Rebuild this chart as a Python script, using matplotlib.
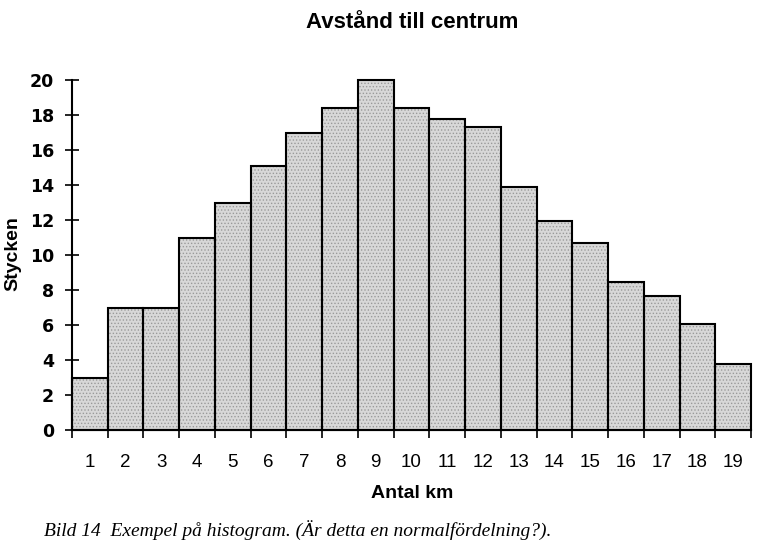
import matplotlib
matplotlib.use("Agg")
import matplotlib.pyplot as plt
import numpy as np

title = "Avstånd till centrum"
xlabel = "Antal km"
ylabel = "Stycken"
caption = "Bild 14  Exempel på histogram. (Är detta en normalfördelning?)."
km = [1, 2, 3, 4, 5, 6, 7, 8, 9, 10, 11, 12, 13, 14, 15, 16, 17, 18, 19]
counts = [3, 7, 7, 11, 13, 15.1, 16.95, 18.4, 20, 18.4, 17.8, 17.3, 13.9,
          11.95, 10.7, 8.45, 7.65, 6.05, 3.8]
yticks = [0, 2, 4, 6, 8, 10, 12, 14, 16, 18, 20]

plt.rcParams['hatch.linewidth'] = 0.6
fig = plt.figure(figsize=(7.64, 5.53), dpi=100)
ax = fig.add_axes([72/764, 1-430/553, (751-72)/764, (430-80)/553])

x = np.array(km)
# stippled fill
ax.bar(x, counts, width=1.0, color='#d8d8d8', hatch='.....',
       edgecolor='#9a9a9a', linewidth=0, clip_on=False, zorder=2)
# outlines
ax.bar(x, counts, width=1.0, fill=False, edgecolor='black',
       linewidth=1.5, clip_on=False, zorder=3)

ax.set_xlim(0.5, 19.5)
ax.set_ylim(0, 20)
for s in ['top', 'right']:
    ax.spines[s].set_visible(False)
for s in ['left', 'bottom']:
    ax.spines[s].set_linewidth(1.5)
ax.spines['bottom'].set_zorder(4)

ax.set_yticks(yticks)
ax.set_yticklabels([str(v) for v in yticks], fontsize=12.5, fontweight='bold',
                   family=['DejaVu Sans'])
ax.tick_params(axis='y', direction='inout', length=10, width=1.2, pad=8)

edges = np.arange(0.5, 20.0, 1.0)
ax.set_xticks(edges)
ax.set_xticklabels([])
ax.tick_params(axis='x', which='major', direction='out', length=6, width=1.2)
ax.set_xticks(x, minor=True)
ax.set_xticklabels([str(v) for v in km], minor=True, fontsize=13.5,
                   family=['Liberation Sans Narrow', 'Liberation Sans'])
ax.tick_params(axis='x', which='minor', length=0, pad=17)

fig.text(412/764, 1-22/553, title, ha='center', va='center', fontsize=16,
         fontweight='bold', family=['Liberation Sans', 'DejaVu Sans'])
fig.text(412/764, 1-493/553, xlabel, ha='center', va='center', fontsize=14,
         fontweight='bold', family=['Liberation Sans', 'DejaVu Sans'])
fig.text(13/764, 1-254/553, ylabel, ha='center', va='center', fontsize=14,
         fontweight='bold', rotation=90, family=['Liberation Sans', 'DejaVu Sans'])
fig.text(44/764, 1-530/553, caption, ha='left', va='center', fontsize=14,
         style='italic', family=['Liberation Serif', 'DejaVu Serif'])

fig.savefig('out.png', dpi=100)
